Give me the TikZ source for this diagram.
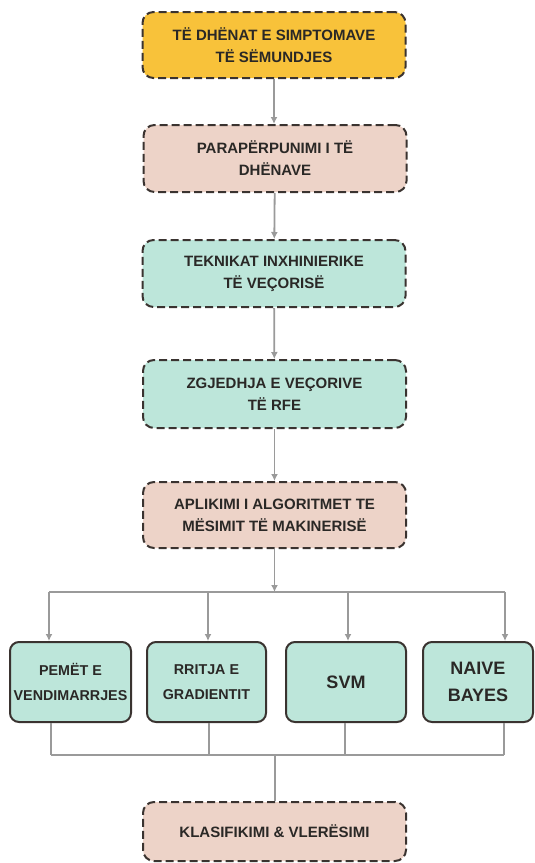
\documentclass[tikz,border=0pt]{standalone}
\usepackage{fontspec}
\setmainfont{Liberation Sans}
\usetikzlibrary{arrows.meta}
\definecolor{cyellow}{HTML}{F8C23A}
\definecolor{cpink}{HTML}{EDD3C8}
\definecolor{cteal}{HTML}{BDE6DA}
\definecolor{cborder}{HTML}{3A3330}
\definecolor{cline}{HTML}{9A9A9A}
\definecolor{ctext}{HTML}{2A2826}
\tikzset{
  stagebox/.style={draw=cborder, line width=2pt, dash pattern=on 8pt off 4pt, rounded corners=11pt,
    minimum width=263pt, minimum height=66pt, align=center, font=\bfseries\fontsize{15}{22}\selectfont,
    text=ctext, inner sep=0pt},
  algbox/.style={draw=cborder, line width=2pt, rounded corners=9pt, fill=cteal,
    minimum height=80pt, align=center, text=ctext, inner sep=0pt},
  smalltxt/.style={font=\bfseries\fontsize{14.3}{25}\selectfont},
  bigtxt/.style={font=\bfseries\fontsize{18}{27}\selectfont},
  conn/.style={draw=cline, line width=1.8pt},
  arr/.style={conn, -{Latex[length=7pt,width=7pt]}}
}
\begin{document}
\begin{tikzpicture}[x=1pt,y=-1pt]
\useasboundingbox (0,0) rectangle (535,863);
\node[stagebox, fill=cyellow] (b1) at (274,45) {TË DHËNAT E SIMPTOMAVE\\TË SËMUNDJES};
\node[stagebox, fill=cpink, minimum height=67pt] (b2) at (275,158.5) {PARAPËRPUNIMI I TË\\DHËNAVE};
\node[stagebox, fill=cteal, minimum height=67pt] (b3) at (274,273.5) {TEKNIKAT INXHINIERIKE\\TË VEÇORISË};
\node[stagebox, fill=cteal, minimum height=68pt] (b4) at (274.5,394) {ZGJEDHJA E VEÇORIVE\\TË RFE};
\node[stagebox, fill=cpink] (b5) at (274.5,515) {APLIKIMI I ALGORITMET TE\\MËSIMIT TË MAKINERISË};
\node[algbox, minimum width=121pt, smalltxt] (a) at (70.5,682) {PEMËT E\\VENDIMARRJES};
\node[algbox, minimum width=119pt, smalltxt] (b) at (206.5,682) {RRITJA E\\GRADIENTIT};
\node[algbox, minimum width=120pt, bigtxt] (c) at (346,682) {SVM};
\node[algbox, minimum width=110pt, bigtxt] (d) at (478,682) {NAIVE\\BAYES};
\node[stagebox, fill=cpink, minimum height=59pt] (b6) at (274.5,831.5) {KLASIFIKIMI \& VLERËSIMI};
% top chain
\draw[arr] (b1.south -| 274,0) -- (b2.north -| 274,0);
\draw[arr] (b2) -- (b3);
\draw[arr] (b3) -- (b4);
\draw[arr] (b4) -- (b5);
% fan out
\coordinate (j1) at (274.5,592);
\coordinate (ta) at (49,592);
\coordinate (tb) at (208,592);
\coordinate (tc) at (348,592);
\coordinate (td) at (505,592);
\draw[arr] (b5) -- (j1);
\draw[conn] (ta) -- (td);
\draw[arr] (ta) -- (ta |- a.north);
\draw[arr] (tb) -- (tb |- b.north);
\draw[arr] (tc) -- (tc |- c.north);
\draw[arr] (td) -- (td |- d.north);
% fan in
\coordinate (ua) at (51,755);
\coordinate (ub) at (209,755);
\coordinate (uc) at (345,755);
\coordinate (ud) at (504,755);
\coordinate (j2) at (275,755);
\draw[conn] (ua |- a.south) -- (ua);
\draw[conn] (ub |- b.south) -- (ub);
\draw[conn] (uc |- c.south) -- (uc);
\draw[conn] (ud |- d.south) -- (ud);
\draw[conn] (ua) -- (ud);
\draw[conn] (j2) -- (j2 |- b6.north);
\end{tikzpicture}
\end{document}
